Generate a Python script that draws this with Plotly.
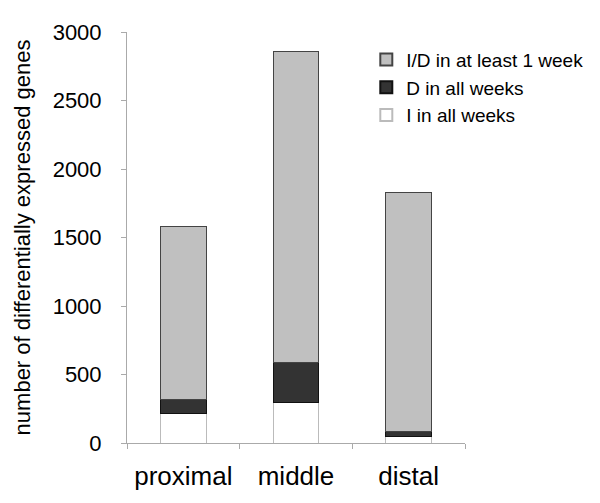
import plotly.graph_objects as go

categories = ["proximal", "middle", "distal"]
i_all = [215, 295, 50]
d_all = [100, 290, 35]
id_any = [1265, 2275, 1745]
series_names = ["I in all weeks", "D in all weeks", "I/D in at least 1 week"]

fig = go.Figure()
fig.add_trace(go.Bar(x=categories, y=i_all, name=series_names[0],
                     marker=dict(color="#ffffff", line=dict(color="#bbbbbb", width=1))))
fig.add_trace(go.Bar(x=categories, y=d_all, name=series_names[1],
                     marker=dict(color="#333333", line=dict(color="#111111", width=1))))
fig.add_trace(go.Bar(x=categories, y=id_any, name=series_names[2],
                     marker=dict(color="#c0c0c0", line=dict(color="#444444", width=1))))

# page body has an 8px margin, so the figure is 8px smaller and margins shifted
fig.update_layout(
    width=592, height=495,
    barmode="stack", bargap=0.595,
    plot_bgcolor="white", paper_bgcolor="white",
    margin=dict(l=119, r=125, t=17, b=58),
    font=dict(family="Liberation Sans, Arial, sans-serif", color="#000000"),
    showlegend=True,
    legend=dict(x=0.708, y=0.979, xanchor="left", yanchor="top",
                traceorder="reversed", font=dict(size=19),
                bgcolor="rgba(0,0,0,0)", itemsizing="constant",
                tracegroupgap=0),
)
fig.update_yaxes(range=[0, 3000], dtick=500, showgrid=False, zeroline=False,
                 showline=True, linecolor="#aaaaaa", linewidth=1,
                 ticks="outside", ticklen=5, tickcolor="#aaaaaa",
                 tickfont=dict(size=22), ticklabelstandoff=15,
                 title=dict(text="number of differentially expressed genes",
                            font=dict(size=22), standoff=15))
fig.update_xaxes(showgrid=False, showline=True, linecolor="#aaaaaa", linewidth=1,
                 ticks="outside", ticklen=5, tickcolor="#aaaaaa",
                 tickson="boundaries", tickfont=dict(size=26), ticklabelstandoff=10)

fig.write_html("out.html")
